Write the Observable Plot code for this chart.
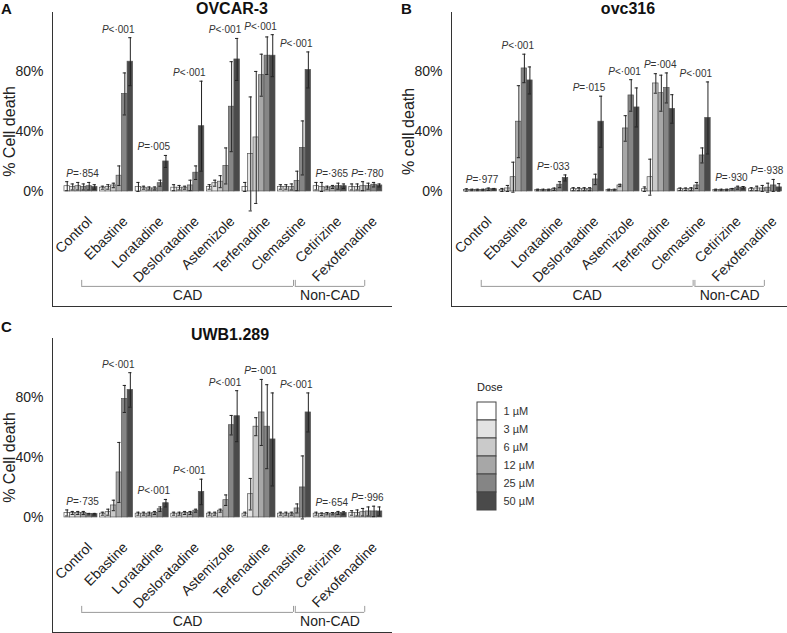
<!DOCTYPE html>
<html>
<head>
<meta charset="utf-8">
<script src="https://cdn.jsdelivr.net/npm/d3@7"></script>
<script src="https://cdn.jsdelivr.net/npm/@observablehq/plot@0.6"></script>
<style>
  body { margin: 0; background: #fff; font-family: "Liberation Sans", Arial, sans-serif; }
  #fig { position: relative; width: 787px; height: 633px; overflow: hidden; background: #fff; }
  .abs { position: absolute; }
  .letter { font-weight: bold; font-size: 15px; color: #111; line-height: 1; }
  .title { font-weight: bold; font-size: 16px; color: #111; line-height: 1; transform: translateX(-50%); white-space: nowrap; }
  .legtitle { font-size: 11px; color: #222; line-height: 1; }
  svg { overflow: visible; }
</style>
</head>
<body>
<div id="fig"></div>
<script>
// ---------------- data ----------------
const drugs = ["Control","Ebastine","Loratadine","Desloratadine","Astemizole","Terfenadine","Clemastine","Cetirizine","Fexofenadine"];
const doses = ["1 µM","3 µM","6 µM","12 µM","25 µM","50 µM"];
const doseColors = ["#ffffff","#e3e3e3","#cacaca","#a7a7a7","#858585","#4a4a4a"];

const groupNames = ["CAD","Non-CAD"];
const groupFirst = ["Ebastine","Cetirizine"];
const groupLast  = ["Clemastine","Fexofenadine"];

// OVCAR-3 (% cell death), rows = drugs, cols = doses
const ovcar3Mean = [
  [3.5,3,3.5,3,3.5,3],
  [2.5,3,4,10.5,65,86.5],
  [3,2.5,2,2,5.5,20],
  [2.5,2.5,2.5,4,12.5,43.5],
  [3,5.5,6.5,17,56.5,88],
  [3,25,36,77.5,90.5,90.5],
  [3,3,3,7,29,81],
  [3.5,3,2.5,3,3.5,3.5],
  [3,3,3.5,3.5,4.5,4]
];
const ovcar3Err = [
  [3,2,2.5,2,2.5,1.5],
  [1,1.5,1.5,6.5,14,16],
  [3,1,1,1,2,4],
  [2,1.5,1,3.5,4.5,30],
  [1.5,2,4,12,30,14],
  [3,38,44,14,12.5,14],
  [1.5,1.5,2,6.5,18,12],
  [2.5,3,1,1,2,1.5],
  [2,2,3,2,1.5,1]
];
const ovcar3P = ["P=·854","P<·001","P=·005","P<·001","P<·001","P<·001","P<·001","P=·365","P=·780"];

// ovc316
const ovc316Mean = [
  [1,1,1,1,1.5,1.5],
  [1,2,9.5,46.5,82,74],
  [1,1,1,1.5,4.5,9],
  [1.5,1.5,1.5,1.5,8,46.5],
  [1,1,4,42,64,56],
  [1.5,9.5,72,65.5,69,55],
  [1.5,1.5,1.5,4,24,49],
  [1,1,1,1.5,2.5,2.5],
  [1.5,2,2,2.5,4,2.7]
];
const ovc316Err = [
  [0.8,0.5,0.5,0.5,0.8,0.5],
  [1,2,10,24,9.5,9],
  [0.5,0.5,0.5,0.8,2,2],
  [1,1,1,1,3.5,17],
  [0.5,0.5,0.8,8.5,10.5,13],
  [1.5,12,6.5,12,10,9.5],
  [0.8,0.8,1,2,5,24],
  [0.5,0.5,0.5,0.5,1,0.8],
  [1,1.5,2,3,4,2.5]
];
const ovc316P = ["P=·977","P<·001","P=·033","P=·015","P<·001","P=·004","P<·001","P=·930","P=·938"];

// UWB1.289
const uwbMean = [
  [3,3,3,3,2.2,2.2],
  [2.5,3.5,8,30,79,85],
  [2.5,2.5,2.5,3,5.5,9.5],
  [2.5,2.5,3,3,4.5,17],
  [2.5,2.5,4.5,11.5,61.5,67.5],
  [2.5,15.5,60.5,70,60.5,52],
  [2.5,2.5,2.5,6,20,70],
  [2.5,2.2,2.5,2.5,3,3],
  [3,3,3.5,4,4,4]
];
const uwbErr = [
  [2,1,1,1,0.5,0.5],
  [1,2,3.5,20,9,11.5],
  [1,1,1,1,1.5,2.5],
  [1,1,1,1,1,8.5],
  [1,1,1,3.5,6.5,17],
  [1,10.5,6,22,28,31],
  [1,1,1,3,21,13],
  [1,0.8,0.8,0.8,1,0.8],
  [1.5,2,2.5,3,3.5,3]
];
const uwbP = ["P=·735","P<·001","P<·001","P<·001","P<·001","P=·001","P<·001","P=·654","P=·996"];

const yTicks = [0, 40, 80];

// ---------------- layout constants ----------------
const FONT = "'Liberation Sans', Arial, sans-serif";
const Y_MIN = -76.7, Y_MAX = 119.3;
const GROUP_W = 0.927, BAR_W = GROUP_W / 6, CAP = 0.045;
const LABEL_Y = -20.5, BRACKET_Y = -63.3, BRACKET_TICK = 4, BRACKET_LABEL_Y = -69.5;

function panel({mean, err, pvals, ylabel, width, marginLeft, xDomain}) {
  const rows = [];
  drugs.forEach((drug, i) => doses.forEach((dose, j) =>
    rows.push({drug, dose, i, j, v: mean[i][j], e: err[i][j]})));
  const x1 = d => d.i - GROUP_W / 2 + d.j * BAR_W;
  const xc = d => x1(d) + BAR_W / 2;
  const tops = drugs.map((drug, i) => ({
    i, p: pvals[i],
    top: d3.max(doses, (_, j) => mean[i][j] + err[i][j])
  }));
  const brackets = groupNames.map((name, k) => ({
    name,
    a: drugs.indexOf(groupFirst[k]) - 0.98,
    b: drugs.indexOf(groupLast[k]) - 0.03
  }));
  return Plot.plot({
    width, height: 310,
    marginLeft, marginRight: 0, marginTop: 12, marginBottom: 4,
    x: {domain: xDomain, axis: null},
    y: {domain: [Y_MIN, Y_MAX], ticks: yTicks, tickFormat: d => d + "%", tickSize: 0, tickPadding: 9, label: null},
    color: {domain: doses, range: doseColors},
    style: {fontFamily: FONT, fontSize: "14px", color: "#222", background: "transparent", overflow: "visible"},
    marks: [
      Plot.ruleX([xDomain[0]], {stroke: "#333", strokeWidth: 1}),
      Plot.ruleY([Y_MIN], {stroke: "#333", strokeWidth: 1}),
      Plot.rectY(rows, {x1, x2: d => x1(d) + BAR_W, y1: 0, y2: "v", fill: "dose", stroke: "#555", strokeWidth: 0.7}),
      Plot.ruleX(rows, {x: xc, y1: d => d.v - d.e, y2: d => d.v + d.e, stroke: "#222", strokeWidth: 1}),
      Plot.ruleY(rows, {y: d => d.v + d.e, x1: d => xc(d) - CAP, x2: d => xc(d) + CAP, stroke: "#222", strokeWidth: 1}),
      Plot.ruleY(rows, {y: d => d.v - d.e, x1: d => xc(d) - CAP, x2: d => xc(d) + CAP, stroke: "#222", strokeWidth: 1}),
      Plot.text(tops, {x: "i", y: "top", text: d => d.p.slice(0, 1), fontStyle: "italic", textAnchor: "end", lineAnchor: "bottom", dx: -8, dy: -5, fontSize: 10, fill: "#333"}),
      Plot.text(tops, {x: "i", y: "top", text: d => d.p.slice(1), textAnchor: "start", lineAnchor: "bottom", dx: -8, dy: -5, fontSize: 10, fill: "#333"}),
      Plot.text(drugs, {x: (d, i) => i, y: LABEL_Y, text: d => d, rotate: -45, textAnchor: "end", lineAnchor: "bottom", dx: 12, fontSize: 14, fill: "#222"}),
      Plot.ruleY(brackets, {y: BRACKET_Y, x1: "a", x2: "b", stroke: "#9a9a9a", strokeWidth: 1}),
      Plot.ruleX(brackets, {x: "a", y1: BRACKET_Y, y2: BRACKET_Y + BRACKET_TICK, stroke: "#9a9a9a", strokeWidth: 1}),
      Plot.ruleX(brackets, {x: "b", y1: BRACKET_Y, y2: BRACKET_Y + BRACKET_TICK, stroke: "#9a9a9a", strokeWidth: 1}),
      Plot.text(brackets, {x: d => (d.a + d.b) / 2, y: BRACKET_LABEL_Y, text: "name", fontSize: 14, fill: "#222"}),
      Plot.text([ylabel], {x: xDomain[0], y: 40, text: d => d, rotate: -90, dx: -43, fontSize: 16, fill: "#222"})
    ]
  });
}

const fig = document.getElementById("fig");
function place(el, left, top) {
  const wrap = document.createElement("div");
  wrap.className = "abs";
  wrap.style.left = left + "px";
  wrap.style.top = top + "px";
  wrap.appendChild(el);
  fig.appendChild(wrap);
  return wrap;
}
function label(text, cls, left, top) {
  const d = document.createElement("div");
  d.className = "abs " + cls;
  d.style.left = left + "px";
  d.style.top = top + "px";
  d.textContent = text;
  fig.appendChild(d);
}

place(panel({mean: ovcar3Mean, err: ovcar3Err, pvals: ovcar3P, ylabel: "% Cell death", width: 392, marginLeft: 52, xDomain: [-0.80, 8.75]}), 0, 0);
place(panel({mean: ovc316Mean, err: ovc316Err, pvals: ovc316P, ylabel: "% cell death", width: 397, marginLeft: 61, xDomain: [-0.815, 8.62]}), 390, 0);
place(panel({mean: uwbMean, err: uwbErr, pvals: uwbP, ylabel: "% Cell death", width: 392, marginLeft: 52, xDomain: [-0.80, 8.75]}), 0, 326);

label("A", "letter", 1, 1);
label("B", "letter", 401, 1);
label("C", "letter", 1, 319);
label("OVCAR-3", "title", 232, 1);
label("ovc316", "title", 628, 1);
label("UWB1.289", "title", 230, 327);

// legend
const legend = Plot.plot({
  width: 19 + 60, height: 112,
  marginLeft: 0, marginRight: 60, marginTop: 0, marginBottom: 0,
  x: {axis: null},
  y: {domain: doses, axis: "right", tickSize: 0, tickPadding: 7, label: null, padding: 0},
  color: {domain: doses, range: doseColors},
  style: {fontFamily: FONT, fontSize: "11px", color: "#333", background: "transparent", overflow: "visible"},
  marks: [
    Plot.cell(doses, {y: d => d, fill: d => d, stroke: "#444", strokeWidth: 1, inset: 0})
  ]
});
place(legend, 477, 400);
label("Dose", "legtitle", 477, 382);
</script>
</body>
</html>
